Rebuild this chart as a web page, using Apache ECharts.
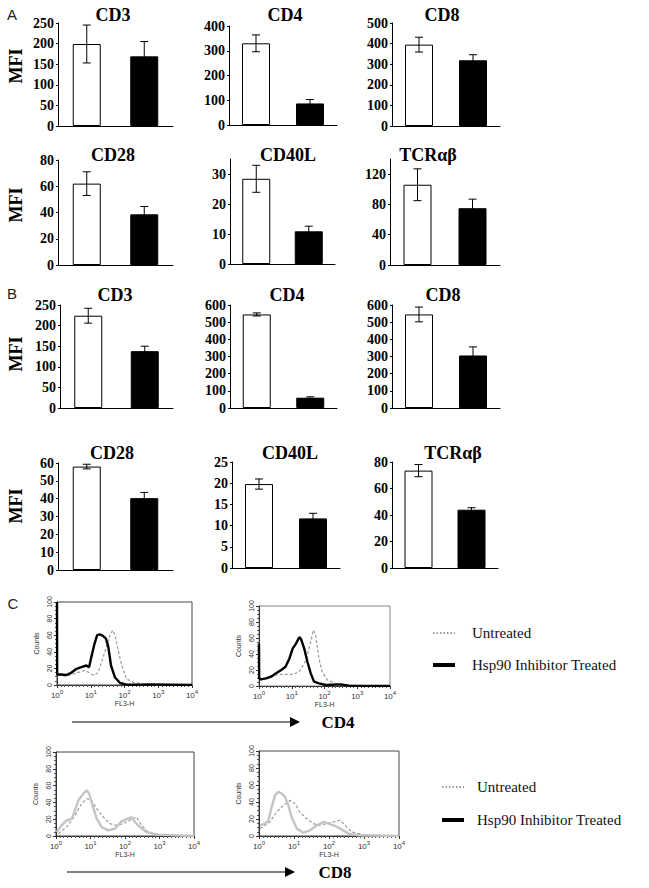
<!DOCTYPE html>
<html><head><meta charset="utf-8">
<script src="https://cdn.jsdelivr.net/npm/echarts@6/dist/echarts.min.js"></script>
<style>html,body{margin:0;padding:0;background:#fff}#c{width:649px;height:888px}</style>
</head><body><div id="c"></div>
<script>
// ---------- DATA ----------
const groups = ['Untreated', 'Hsp90 Inhibitor Treated'];
const markers = ['CD3', 'CD4', 'CD8', 'CD28', 'CD40L', 'TCRαβ'];
// Panel A
const aUntreated    = [199, 330, 395, 62, 28.4, 106];
const aUntreatedErr = [46, 34, 36, 9, 4.5, 21];
const aTreated      = [169, 87, 319, 38.6, 10.9, 75];
const aTreatedErr   = [36, 16, 27, 6, 1.7, 12];
const aMax  = [250, 400, 500, 80, 35, 140];
const aStep = [50, 100, 100, 20, 10, 40];
// Panel B
const bUntreated    = [224, 545, 545, 58, 19.8, 73.5];
const bUntreatedErr = [18, 9, 43, 1.3, 1.2, 4.6];
const bTreated      = [138, 60, 306, 40.3, 11.7, 44];
const bTreatedErr   = [12, 5, 50, 3.2, 1.2, 1.5];
const bMax  = [250, 600, 600, 60, 25, 80];
const bStep = [50, 100, 100, 10, 5, 20];
// Panel C histograms: x = log10(FL3-H), y = counts
const cd4aTreatedX   = [0, 0.005, 0.03, 0.28, 0.43, 0.58, 0.72, 0.87, 0.95, 1.02, 1.10, 1.19, 1.27, 1.37, 1.45, 1.52, 1.60, 1.72, 1.87, 2.06, 2.46, 2.76, 4];
const cd4aTreatedY   = [100, 12, 13, 12, 15, 19.5, 21.5, 23.5, 21.5, 34, 48, 60, 61, 59, 56, 46, 23.5, 9, 2.4, 0.4, 0.4, 0.8, 0];
const cd4aUntreatedX = [0.03, 0.28, 0.58, 0.82, 0.97, 1.10, 1.22, 1.32, 1.45, 1.57, 1.65, 1.72, 1.82, 1.92, 2.06, 2.26, 2.56, 2.96, 4];
const cd4aUntreatedY = [12, 10.5, 14.6, 17.5, 14.6, 11.4, 15.4, 27.6, 44, 60, 66, 60, 40, 23.5, 7.3, 3.3, 1.2, 0.8, 0];
const cd4bTreatedX   = [0, 0.005, 0.05, 0.22, 0.37, 0.52, 0.68, 0.81, 0.93, 1.03, 1.13, 1.23, 1.28, 1.38, 1.48, 1.58, 1.68, 1.83, 2.04, 2.49, 2.74, 4];
const cd4bTreatedY   = [53, 10, 8.3, 9.5, 11.6, 15.8, 20, 24, 34.4, 47, 53, 61, 59, 47, 30, 15.8, 5.4, 3.3, 1.2, 2, 0.4, 0];
const cd4bUntreatedX = [0.05, 0.42, 0.73, 1.03, 1.23, 1.43, 1.58, 1.66, 1.73, 1.83, 1.93, 2.09, 2.34, 2.74, 4];
const cd4bUntreatedY = [7.5, 13.7, 14.5, 14.5, 17.8, 32, 55, 70, 63.5, 34.4, 17.8, 7.5, 3.3, 1.2, 0];
const cd8aTreatedX   = [0.02, 0.16, 0.31, 0.46, 0.55, 0.65, 0.79, 0.89, 0.96, 1.06, 1.18, 1.32, 1.51, 1.71, 1.90, 2.09, 2.19, 2.28, 2.43, 2.62, 2.91, 4];
const cd8aTreatedY   = [4.8, 12.7, 18.7, 20.6, 30.6, 42.5, 50.4, 54.4, 50.4, 36.5, 20.6, 10.7, 6.7, 8.7, 17.5, 20.6, 22.6, 16.7, 10.7, 4.8, 1.6, 0];
const cd8aUntreatedX = [0.07, 0.31, 0.55, 0.74, 0.89, 1.03, 1.18, 1.37, 1.56, 1.75, 1.95, 2.14, 2.33, 2.48, 2.67, 3.01, 4];
const cd8aUntreatedY = [2.8, 10.7, 24.6, 38.5, 44.4, 42.5, 32.5, 22.6, 14.7, 12.7, 14.7, 18.7, 22.6, 12.7, 4.8, 1.6, 0];
const cd8bTreatedX   = [0.03, 0.17, 0.27, 0.36, 0.46, 0.55, 0.65, 0.74, 0.84, 0.93, 1.08, 1.27, 1.46, 1.65, 1.84, 1.99, 2.13, 2.32, 2.56, 2.84, 4];
const cd8bTreatedY   = [12.6, 14.6, 18.5, 34, 48, 52, 50, 46, 36, 22.4, 8.7, 3.9, 6.7, 12.6, 16.5, 14.6, 12.6, 8.7, 2.8, 0.8, 0];
const cd8bUntreatedX = [0.03, 0.31, 0.50, 0.70, 0.89, 1.03, 1.17, 1.36, 1.55, 1.74, 1.93, 2.12, 2.32, 2.46, 2.65, 2.98, 4];
const cd8bUntreatedY = [8.7, 16.5, 28, 36, 42, 38, 28, 20.5, 14.6, 12.6, 14.6, 16.5, 18.5, 12.6, 4.7, 1.6, 0];
const logTicks = [0, 1, 2, 3, 4];

// ---------- LAYOUT ----------
const SERIF = 'Liberation Serif';
const SANS = 'Liberation Sans';
// [left, top, right, bottom, titleX, titleY]
const aBoxes = [
  [58, 23, 173, 126, 113, 15], [229, 26, 337, 125, 285, 15], [392, 23, 500, 126, 442, 15],
  [58, 160, 173, 265, 113, 155], [230, 159, 335, 264, 288, 155], [390, 159, 500, 265, 428, 155]
];
const bBoxes = [
  [60, 305, 173, 408, 115, 295], [230, 305, 337, 408, 287, 295], [392, 305, 500, 408, 443, 295],
  [58, 463, 173, 570, 112, 453], [232, 462, 340, 568, 290, 453], [392, 462, 498, 568, 453, 453]
];
const hBoxes = [
  [57, 602, 192, 685], [259, 606, 390, 686], [56, 752, 194, 836], [259, 751, 399, 836]
];

const grids = [], xAxes = [], yAxes = [], series = [], graphics = [];

function errRender(params, api) {
  const x = api.value(0), m = api.value(1), e = api.value(2);
  const t = api.coord([x, m + e]), b = api.coord([x, m - e]);
  const w = 4, st = { stroke: '#000', lineWidth: 1 };
  return { type: 'group', children: [
    { type: 'line', shape: { x1: t[0], y1: t[1], x2: b[0], y2: b[1] }, style: st },
    { type: 'line', shape: { x1: t[0] - w, y1: t[1], x2: t[0] + w, y2: t[1] }, style: st },
    { type: 'line', shape: { x1: b[0] - w, y1: b[1], x2: b[0] + w, y2: b[1] }, style: st }
  ]};
}

function addBar(box, title, u, ue, t, te, max, step) {
  const gi = grids.length;
  grids.push({ left: box[0], top: box[1], width: box[2] - box[0], height: box[3] - box[1], containLabel: false });
  xAxes.push({ gridIndex: gi, type: 'category', data: groups, axisLabel: { show: false }, axisTick: { show: false },
    axisLine: { lineStyle: { color: '#000', width: 1 } } });
  yAxes.push({ gridIndex: gi, type: 'value', min: 0, max: max, interval: step, splitLine: { show: false },
    axisLine: { show: true, lineStyle: { color: '#000', width: 1 } },
    axisTick: { show: true, length: 2, lineStyle: { color: '#000' } },
    axisLabel: { showMaxLabel: max % step === 0, color: '#000', fontFamily: SERIF, fontWeight: 'bold', fontSize: 14, margin: 4 } });
  series.push({ type: 'bar', xAxisIndex: gi, yAxisIndex: gi, barWidth: 28, animation: false,
    data: [ { value: u, itemStyle: { color: '#fff', borderColor: '#000', borderWidth: 1 } },
            { value: t, itemStyle: { color: '#000', borderColor: '#000', borderWidth: 1 } } ] });
  series.push({ type: 'custom', xAxisIndex: gi, yAxisIndex: gi, z: 5, animation: false, renderItem: errRender,
    data: [[0, u, ue], [1, t, te]] });
  graphics.push({ type: 'text', x: box[4], y: box[5], style: { text: title, font: 'bold 18px ' + SERIF, fill: '#000', textAlign: 'center', textVerticalAlign: 'middle' } });
}
for (let i = 0; i < 6; i++) addBar(aBoxes[i], markers[i], aUntreated[i], aUntreatedErr[i], aTreated[i], aTreatedErr[i], aMax[i], aStep[i]);
for (let i = 0; i < 6; i++) addBar(bBoxes[i], markers[i], bUntreated[i], bUntreatedErr[i], bTreated[i], bTreatedErr[i], bMax[i], bStep[i]);

function zip(xs, ys) { return xs.map((x, i) => [x, ys[i]]); }
function addHist(box, tX, tY, uX, uY, tColor, uColor, light) {
  const gi = grids.length;
  grids.push({ left: box[0], top: box[1], width: box[2] - box[0], height: box[3] - box[1], show: true,
    borderColor: light ? '#888' : '#444', borderWidth: 1, backgroundColor: 'transparent' });
  xAxes.push({ gridIndex: gi, type: 'value', min: logTicks[0], max: logTicks[logTicks.length - 1], interval: 1,
    name: 'FL3-H', nameLocation: 'middle', nameGap: 15, nameTextStyle: { fontFamily: SANS, fontSize: 7, color: '#333' },
    splitLine: { show: false }, axisLine: { lineStyle: { color: '#333', width: 1 } },
    axisTick: { length: 3, lineStyle: { color: '#333' } },
    minorTick: { show: true, splitNumber: 9, length: 2, lineStyle: { color: '#555' } },
    axisLabel: { margin: 4, color: '#333', fontFamily: SANS, fontSize: 8,
      formatter: v => '10{s|' + v + '}', rich: { s: { fontSize: 6, fontFamily: SANS, color: '#333', padding: [0, 0, 6, 0] } } } });
  yAxes.push({ gridIndex: gi, type: 'value', min: 0, max: 100, interval: 20,
    name: 'Counts', nameLocation: 'middle', nameRotate: 90, nameGap: 17, nameTextStyle: { fontFamily: SANS, fontSize: 7, color: '#333' },
    splitLine: { show: false }, axisLine: { lineStyle: { color: '#333', width: 1 } },
    axisTick: { length: 3, lineStyle: { color: '#333' } },
    minorTick: { show: true, splitNumber: 4, length: 2, lineStyle: { color: '#555' } },
    axisLabel: { rotate: 90, margin: 4, color: '#333', fontFamily: SANS, fontSize: 7 } });
  series.push({ type: 'line', xAxisIndex: gi, yAxisIndex: gi, showSymbol: false, animation: false, z: 3,
    data: zip(uX, uY), lineStyle: { color: uColor, width: 1.2, type: [3, 2] } });
  series.push({ type: 'line', xAxisIndex: gi, yAxisIndex: gi, showSymbol: false, animation: false, z: 4,
    data: zip(tX, tY), lineStyle: { color: tColor, width: 2.4 } });
}
addHist(hBoxes[0], cd4aTreatedX, cd4aTreatedY, cd4aUntreatedX, cd4aUntreatedY, '#000', '#9a9a9a', false);
addHist(hBoxes[1], cd4bTreatedX, cd4bTreatedY, cd4bUntreatedX, cd4bUntreatedY, '#000', '#9a9a9a', true);
addHist(hBoxes[2], cd8aTreatedX, cd8aTreatedY, cd8aUntreatedX, cd8aUntreatedY, '#c4c4c4', '#9a9a9a', false);
addHist(hBoxes[3], cd8bTreatedX, cd8bTreatedY, cd8bUntreatedX, cd8bUntreatedY, '#c4c4c4', '#9a9a9a', false);

// Panel labels and MFI
[['A', 12, 14], ['B', 12, 293], ['C', 13, 603]].forEach(p => graphics.push({ type: 'text', x: p[1], y: p[2],
  style: { text: p[0], font: '15px ' + SANS, fill: '#222', textAlign: 'center', textVerticalAlign: 'middle' } }));
[66, 205, 354, 506].forEach(y => graphics.push({ type: 'text', x: 16, y: y, rotation: Math.PI / 2,
  style: { text: 'MFI', font: 'bold 18px ' + SERIF, fill: '#000', textAlign: 'center', textVerticalAlign: 'middle' } }));
// Arrows with marker names
[[72, 300, 722, 'CD4', 338], [67, 295, 872, 'CD8', 335]].forEach(a => {
  graphics.push({ type: 'line', shape: { x1: a[0], y1: a[2], x2: a[1] - 8, y2: a[2] }, style: { stroke: '#000', lineWidth: 1 } });
  graphics.push({ type: 'polygon', shape: { points: [[a[1] - 10, a[2] - 5], [a[1], a[2]], [a[1] - 10, a[2] + 5]] }, style: { fill: '#000' } });
  graphics.push({ type: 'text', x: a[4], y: a[2], style: { text: a[3], font: 'bold 17px ' + SERIF, fill: '#000', textAlign: 'center', textVerticalAlign: 'middle' } });
});
// Legends
[[433, 472, 633, 665], [442, 477, 787, 820]].forEach(l => {
  graphics.push({ type: 'line', shape: { x1: l[0], y1: l[2], x2: l[0] + 22, y2: l[2] }, style: { stroke: '#333', lineWidth: 1.2, lineDash: [1.5, 2] } });
  graphics.push({ type: 'text', x: l[1], y: l[2], style: { text: 'Untreated', font: '15px ' + SERIF, fill: '#111', textVerticalAlign: 'middle' } });
  graphics.push({ type: 'line', shape: { x1: l[0], y1: l[3], x2: l[0] + 22, y2: l[3] }, style: { stroke: '#000', lineWidth: 4 } });
  graphics.push({ type: 'text', x: l[1], y: l[3], style: { text: 'Hsp90 Inhibitor Treated', font: '15px ' + SERIF, fill: '#111', textVerticalAlign: 'middle' } });
});

const chart = echarts.init(document.getElementById('c'), null, { renderer: 'svg' });
chart.setOption({ animation: false, backgroundColor: '#fff', grid: grids, xAxis: xAxes, yAxis: yAxes, series: series, graphic: graphics });
</script></body></html>
